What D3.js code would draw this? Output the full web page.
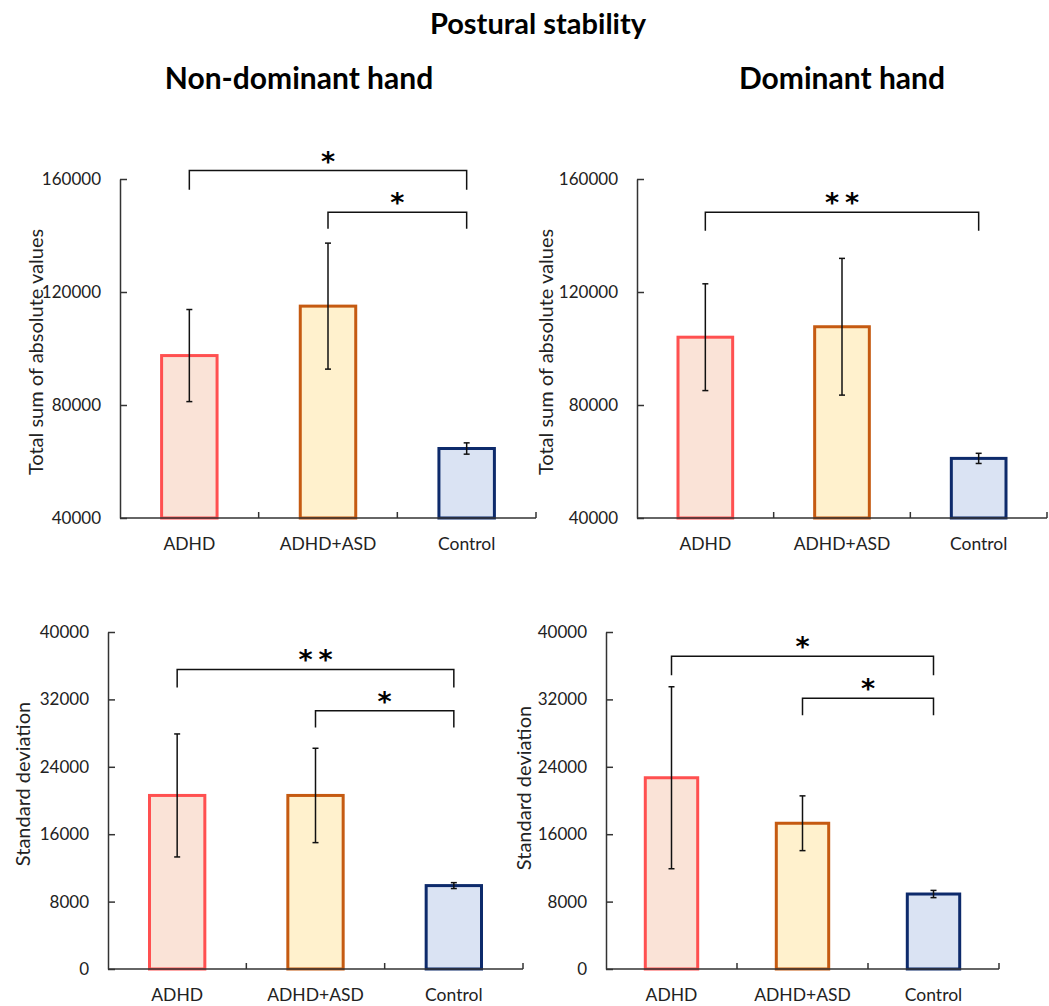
<!DOCTYPE html>
<html>
<head>
<meta charset="utf-8">
<script src="https://cdn.jsdelivr.net/npm/d3@7"></script>
<style>
  body { margin: 0; background: #fff; }
  svg text { font-family: Lato, "Open Sans", sans-serif; fill: #222; }
</style>
</head>
<body>
<svg id="chart" width="1049" height="1006"></svg>
<script>
// groups on the x axis
const categories = ['ADHD', 'ADHD+ASD', 'Control']

// total sum of absolute values (mean, error)
const sumNonDomMean = [97500, 115000, 64600]
const sumNonDomErr = [16300, 22300, 2000]
const sumDomMean = [104000, 107700, 61100]
const sumDomErr = [18900, 24200, 1800]

// standard deviation (mean, error)
const sdNonDomMean = [20600, 20600, 9900]
const sdNonDomErr = [7300, 5600, 350]
const sdDomMean = [22700, 17300, 8900]
const sdDomErr = [10800, 3250, 430]

// tick labels
const sumTicks = [40000, 80000, 120000, 160000]
const sdTicks = [0, 8000, 16000, 24000, 32000, 40000]

// significance brackets: from/to category index, bar level and leg end (data units)
const sumNonDomSig = [
    { from: 0, to: 2, level: 163000, leg: 156200, label: '*' },
    { from: 1, to: 2, level: 148200, leg: 142400, label: '*' }
]
const sumDomSig = [
    { from: 0, to: 2, level: 148200, leg: 141700, label: '**' }
]
const sdNonDomSig = [
    { from: 0, to: 2, level: 35550, leg: 33400, label: '**' },
    { from: 1, to: 2, level: 30640, leg: 28670, label: '*' }
]
const sdDomSig = [
    { from: 0, to: 2, level: 37130, leg: 34880, label: '*' },
    { from: 1, to: 2, level: 32150, leg: 30130, label: '*' }
]

const strokeColors = ['#ff5050', '#c55a11', '#0d2a6b']
const fillColors = ['#fae3d7', '#fff1cd', '#dae3f3']

const svg = d3.select('#chart')

// titles
svg.append('text').attr('x', 538).attr('y', 34).attr('text-anchor', 'middle')
    .style('font-size', '29px').style('font-weight', 'bold').style('fill', '#000')
    .text('Postural stability')
svg.append('text').attr('x', 299).attr('y', 89).attr('text-anchor', 'middle')
    .style('font-size', '30px').style('font-weight', 'bold').style('fill', '#000')
    .text('Non-dominant hand')
svg.append('text').attr('x', 842).attr('y', 89).attr('text-anchor', 'middle')
    .style('font-size', '30px').style('font-weight', 'bold').style('fill', '#000')
    .text('Dominant hand')

const panels = [
    { x0: 120, x1: 536, yTop: 179, yBot: 518, titleX: 35, titleY: 352, domain: [40000, 160000], ticks: sumTicks,
      mean: sumNonDomMean, err: sumNonDomErr, sig: sumNonDomSig, label: 'Total sum of absolute values' },
    { x0: 637, x1: 1047, yTop: 179, yBot: 518, titleX: 545, titleY: 352, domain: [40000, 160000], ticks: sumTicks,
      mean: sumDomMean, err: sumDomErr, sig: sumDomSig, label: 'Total sum of absolute values' },
    { x0: 108, x1: 523, yTop: 632, yBot: 969, titleX: 22, titleY: 784, domain: [0, 40000], ticks: sdTicks,
      mean: sdNonDomMean, err: sdNonDomErr, sig: sdNonDomSig, label: 'Standard deviation' },
    { x0: 606, x1: 999, yTop: 632, yBot: 969, titleX: 523, titleY: 788, domain: [0, 40000], ticks: sdTicks,
      mean: sdDomMean, err: sdDomErr, sig: sdDomSig, label: 'Standard deviation' }
]

panels.forEach(function (p) {
    let g = svg.append('g')

    let x = d3.scaleBand().domain(categories).range([p.x0, p.x1])
        .paddingInner(0.6).paddingOuter(0.3)
    let step = x.step()
    let y = d3.scaleLinear().domain(p.domain).range([p.yBot, p.yTop])
    let cx = function (i) { return x(categories[i]) + x.bandwidth() / 2 }

    // y axis, ticks pointing inward
    let yAxis = g.append('g').attr('transform', 'translate(' + p.x0 + ',0)')
        .call(d3.axisLeft(y).tickValues(p.ticks).tickSize(-7).tickPadding(19).tickSizeOuter(0)
            .tickFormat(d3.format('d')))
    yAxis.select('.domain').attr('stroke', '#333').attr('stroke-width', 1.5)
    yAxis.selectAll('.tick line').attr('stroke', '#333').attr('stroke-width', 1.5)
    yAxis.selectAll('.tick text').style('font-size', '17px').style('fill', '#222')

    // bars
    g.selectAll('.bar').data(p.mean).enter().append('rect')
        .attr('x', function (d, i) { return x(categories[i]) })
        .attr('y', function (d) { return y(d) })
        .attr('width', x.bandwidth())
        .attr('height', function (d) { return y(p.domain[0]) - y(d) })
        .attr('fill', function (d, i) { return fillColors[i] })
        .attr('stroke', function (d, i) { return strokeColors[i] })
        .attr('stroke-width', 3)

    // error bars
    p.mean.forEach(function (m, i) {
        let c = cx(i)
        let top = y(m + p.err[i]), bot = y(m - p.err[i])
        g.append('line').attr('x1', c).attr('x2', c).attr('y1', top).attr('y2', bot)
            .attr('stroke', '#111').attr('stroke-width', 1.5)
        ;[top, bot].forEach(function (yy) {
            g.append('line').attr('x1', c - 3).attr('x2', c + 3).attr('y1', yy).attr('y2', yy)
                .attr('stroke', '#111').attr('stroke-width', 1.5)
        })
    })

    // x axis with ticks between groups
    let base = y(p.domain[0])
    g.append('line').attr('x1', p.x0).attr('x2', p.x1).attr('y1', base).attr('y2', base)
        .attr('stroke', '#333').attr('stroke-width', 1.5)
    d3.range(1, categories.length + 1).forEach(function (k) {
        let tx = p.x0 + k * step
        g.append('line').attr('x1', tx).attr('x2', tx).attr('y1', base).attr('y2', base - 6)
            .attr('stroke', '#333').attr('stroke-width', 1.5)
    })
    g.selectAll('.xlab').data(categories).enter().append('text')
        .attr('x', function (d, i) { return cx(i) })
        .attr('y', base + 32)
        .attr('text-anchor', 'middle')
        .style('font-size', '17.5px')
        .text(function (d) { return d })

    // y axis title
    g.append('text')
        .attr('transform', 'translate(' + p.titleX + ',' + p.titleY + ') rotate(-90)')
        .attr('text-anchor', 'middle')
        .attr('dominant-baseline', 'central')
        .style('font-size', '20px')
        .text(p.label)

    // significance brackets
    p.sig.forEach(function (s) {
        let xa = cx(s.from), xb = cx(s.to)
        let yl = y(s.level), yg = y(s.leg)
        g.append('path')
            .attr('d', 'M' + xa + ',' + yg + 'V' + yl + 'H' + xb + 'V' + yg)
            .attr('fill', 'none').attr('stroke', '#111').attr('stroke-width', 1.5)
        let n = s.label.length
        let mid = (xa + xb) / 2
        for (let j = 0; j < n; j++) {
            let sx = mid + (j - (n - 1) / 2) * 20
            g.append('text').attr('x', sx).attr('y', yl)
                .attr('text-anchor', 'middle')
                .style('font-family', '"DejaVu Sans", sans-serif')
                .style('font-size', '27px').style('font-weight', 'bold').style('fill', '#000')
                .text('*')
        }
    })
})
</script>
</body>
</html>
